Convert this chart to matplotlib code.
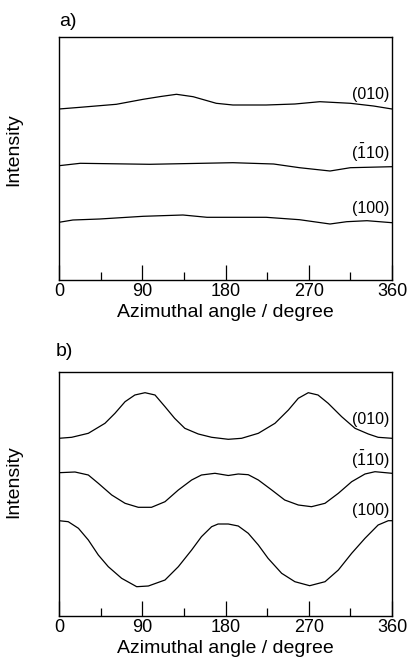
import numpy as np
import matplotlib
matplotlib.use("Agg")
import matplotlib.pyplot as plt

plt.rcParams['font.family'] = ['Liberation Sans', 'DejaVu Sans']
plt.rcParams['mathtext.fontset'] = 'custom'
plt.rcParams['mathtext.rm'] = 'Liberation Sans'
plt.rcParams['mathtext.it'] = 'Liberation Sans'

# a) - nearly flat profiles (arbitrary intensity units, offset per reflection)
a010_ang = [0, 23, 62, 91, 110, 127, 145, 170, 188, 224, 255, 282, 315, 340, 360]
a010_int = [171, 172.7, 175.7, 180.7, 183.5, 185.7, 183.3, 176.7, 175, 175, 176, 178.3, 176.7, 174, 171]
a110_ang = [0, 23, 98, 188, 232, 260, 293, 315, 360]
a110_int = [114.3, 116.7, 115.7, 117.3, 116, 112.3, 109, 112.3, 113.3]
a100_ang = [0, 15, 44, 91, 134, 160, 224, 260, 293, 311, 333, 360]
a100_int = [57.7, 60, 61, 63.7, 65, 62.7, 62.7, 60.3, 56, 58.3, 59.3, 57.3]

# b) - oriented sample
b010_ang = [0, 13.7, 31.7, 49.7, 60.5, 71.4, 82, 93, 103.8, 114.6, 125, 136, 150.6, 165, 183,
            197.4, 215.5, 233.5, 248, 258.7, 269.5, 280, 291, 305.6, 320, 334.4, 345, 360]
b010_int = [177.7, 178.7, 182.7, 192.7, 202.7, 214.3, 221, 223.3, 221, 209.3, 197.7, 187.7, 182, 178.7, 176.7,
            177.7, 182.7, 192.7, 206, 217.7, 223.3, 221, 212.7, 199.3, 187.7, 182, 178.7, 177.7]
b110_ang = [0, 17.3, 31.7, 42.5, 57, 71.4, 85.7, 100, 114.6, 129, 143.4, 154, 168.6, 183, 193.8,
            204.6, 215.5, 230, 244, 258.7, 273, 287.6, 302, 316.4, 330.8, 341.6, 360]
b110_int = [143.3, 144, 141, 132.7, 121, 112.7, 108.7, 108.7, 114.3, 126, 136, 141, 142.7, 140.5, 142,
            141.3, 136, 126, 116, 111, 109.3, 112.7, 122.7, 134.3, 142, 144.3, 142.7]
b100_ang = [0, 10, 21, 31.7, 42.5, 53.3, 67.7, 84, 96.6, 114.6, 129, 143.4, 154, 165, 172, 183,
            193.8, 204.6, 215.5, 226, 240.7, 255, 271, 287.6, 302, 316.4, 330.8, 345, 356, 360]
b100_int = [95.3, 94.3, 87.7, 76, 61, 49.3, 37.7, 29.3, 30, 36, 49.3, 66, 79.3, 89.3, 92, 92,
            90, 82.7, 71, 57.7, 42.7, 34.3, 30.3, 34.3, 46, 62.7, 77.7, 91, 95.3, 95.3]

labels = ['(010)', r'$(\bar{1}10)$', '(100)']
label_y_a = [185, 127, 72]
label_y_b = [196, 156, 106]

fig = plt.figure(figsize=(4.09, 6.66), dpi=100)
ax_a = fig.add_axes([59/409, (666-280)/666, 333/409, 243/666])
ax_b = fig.add_axes([59/409, (666-616)/666, 333/409, 244/666])

panels = [
    (ax_a, [(a010_ang, a010_int), (a110_ang, a110_int), (a100_ang, a100_int)], label_y_a, 243, 0.535),
    (ax_b, [(b010_ang, b010_int), (b110_ang, b110_int), (b100_ang, b100_int)], label_y_b, 244, 0.55),
]

for ax, curves, ly, top, ylab_pos in panels:
    for (ang, inten), lab, y in zip(curves, labels, ly):
        ax.plot(ang, inten, color='black', lw=0.9)
        ax.text(357, y, lab, ha='right', va='center', fontsize=11.5)
    ax.set_xlim(0, 360)
    ax.set_ylim(0, top)
    ax.set_xticks([0, 90, 180, 270, 360])
    ax.set_xticks([45, 135, 225, 315], minor=True)
    ax.tick_params(axis='x', which='major', direction='in', length=11, width=0.9, labelsize=13, pad=2)
    ax.tick_params(axis='x', which='minor', direction='in', length=5.5, width=0.9)
    ax.set_yticks([])
    for s in ax.spines.values():
        s.set_linewidth(1.0)
    ax.set_xlabel('Azimuthal angle / degree', fontsize=14, labelpad=3)
    ax.set_ylabel('Intensity', fontsize=14)
    ax.yaxis.set_label_coords(-0.11, ylab_pos)

fig.text(59/409, (666-13)/666, 'a)', fontsize=14, ha='left', va='top')
fig.text(56/409, (666-343)/666, 'b)', fontsize=14, ha='left', va='top')

fig.savefig('out.png', dpi=100)
